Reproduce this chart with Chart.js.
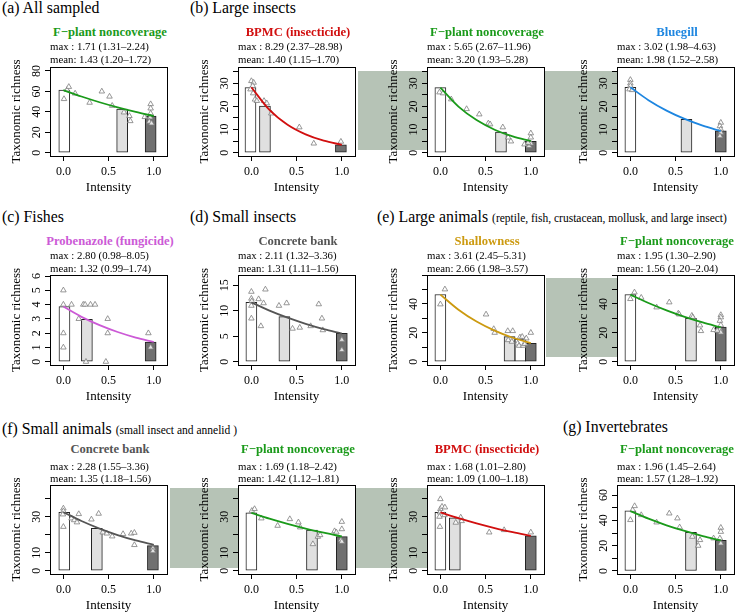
<!DOCTYPE html>
<html>
<head>
<meta charset="utf-8">
<script src="https://cdn.jsdelivr.net/npm/chart.js@4.4.1/dist/chart.umd.min.js"></script>
<style>
  body { margin: 0; background: #fff; }
  #fig { position: relative; width: 745px; height: 615px; overflow: hidden; background: #fff;
         font-family: 'Liberation Serif', 'DejaVu Serif', serif; color: #000; }
  #fig canvas { position: absolute; z-index: 2; }
  .band { position: absolute; background: #b6c3b6; z-index: 1; }
  .txt { position: absolute; white-space: nowrap; line-height: 14px; height: 14px; z-index: 3; }
  .head { font-size: 15.8px; line-height: 18px; height: 18px; }
  .head small { font-size: 11.5px; }
  .ttl { font-weight: bold; font-size: 12.6px; width: 220px; text-align: center; }
  .st { font-size: 10.8px; }
</style>
</head>
<body>
<div id="fig">
  <div class="band" style="left:358px;top:71px;width:259px;height:79px"></div>
  <div class="band" style="left:546px;top:278px;width:71px;height:79px"></div>
  <div class="band" style="left:170px;top:488px;width:257px;height:80px"></div>

  <canvas id="pa"></canvas><canvas id="pb1"></canvas><canvas id="pb2"></canvas><canvas id="pb3"></canvas>
  <canvas id="pc"></canvas><canvas id="pd"></canvas><canvas id="pe1"></canvas><canvas id="pe2"></canvas>
  <canvas id="pf1"></canvas><canvas id="pf2"></canvas><canvas id="pf3"></canvas><canvas id="pg"></canvas>

  <!-- titulos dos grupos -->
  <div class="txt head" style="left:2px;top:-1px">(a) All sampled</div>
  <div class="txt head" style="left:190px;top:-1px">(b) Large insects</div>
  <div class="txt head" style="left:2px;top:208px">(c) Fishes</div>
  <div class="txt head" style="left:190px;top:208px">(d) Small insects</div>
  <div class="txt head" style="left:377px;top:208px">(e) Large animals <small>(reptile, fish, crustacean, mollusk, and large insect)</small></div>
  <div class="txt head" style="left:2px;top:420px">(f) Small animals <small>(small insect and annelid )</small></div>
  <div class="txt head" style="left:563px;top:418px">(g) Invertebrates</div>

  <!-- linha 1 -->
  <div class="txt ttl" style="left:0px;top:25px;color:#1a9a1a">F−plant noncoverage</div>
  <div class="txt st" style="left:50px;top:39px">max : 1.71 (1.31–2.24)</div>
  <div class="txt st" style="left:50px;top:52px">mean: 1.43 (1.20–1.72)</div>

  <div class="txt ttl" style="left:188px;top:25px;color:#d10f0f">BPMC (insecticide)</div>
  <div class="txt st" style="left:238px;top:39px">max : 8.29 (2.37–28.98)</div>
  <div class="txt st" style="left:238px;top:52px">mean: 1.40 (1.15–1.70)</div>

  <div class="txt ttl" style="left:377px;top:25px;color:#1a9a1a">F−plant noncoverage</div>
  <div class="txt st" style="left:427px;top:39px">max : 5.65 (2.67–11.96)</div>
  <div class="txt st" style="left:427px;top:52px">mean: 3.20 (1.93–5.28)</div>

  <div class="txt ttl" style="left:567px;top:25px;color:#1e86e0">Bluegill</div>
  <div class="txt st" style="left:617px;top:39px">max : 3.02 (1.98–4.63)</div>
  <div class="txt st" style="left:617px;top:52px">mean: 1.98 (1.52–2.58)</div>

  <!-- linha 2 -->
  <div class="txt ttl" style="left:0px;top:234px;color:#cc5ad6">Probenazole (fungicide)</div>
  <div class="txt st" style="left:50px;top:248px">max : 2.80 (0.98–8.05)</div>
  <div class="txt st" style="left:50px;top:261px">mean: 1.32 (0.99–1.74)</div>

  <div class="txt ttl" style="left:188px;top:234px;color:#555555">Concrete bank</div>
  <div class="txt st" style="left:238px;top:248px">max : 2.11 (1.32–3.36)</div>
  <div class="txt st" style="left:238px;top:261px">mean: 1.31 (1.11–1.56)</div>

  <div class="txt ttl" style="left:377px;top:234px;color:#cc9a10">Shallowness</div>
  <div class="txt st" style="left:427px;top:248px">max : 3.61 (2.45–5.31)</div>
  <div class="txt st" style="left:427px;top:261px">mean: 2.66 (1.98–3.57)</div>

  <div class="txt ttl" style="left:567px;top:234px;color:#1a9a1a">F−plant noncoverage</div>
  <div class="txt st" style="left:617px;top:248px">max : 1.95 (1.30–2.90)</div>
  <div class="txt st" style="left:617px;top:261px">mean: 1.56 (1.20–2.04)</div>

  <!-- linha 3 -->
  <div class="txt ttl" style="left:0px;top:442px;color:#555555">Concrete bank</div>
  <div class="txt st" style="left:50px;top:459px">max : 2.28 (1.55–3.36)</div>
  <div class="txt st" style="left:50px;top:471px">mean: 1.35 (1.18–1.56)</div>

  <div class="txt ttl" style="left:188px;top:442px;color:#1a9a1a">F−plant noncoverage</div>
  <div class="txt st" style="left:238px;top:459px">max : 1.69 (1.18–2.42)</div>
  <div class="txt st" style="left:238px;top:471px">mean: 1.42 (1.12–1.81)</div>

  <div class="txt ttl" style="left:377px;top:442px;color:#d10f0f">BPMC (insecticide)</div>
  <div class="txt st" style="left:427px;top:459px">max : 1.68 (1.01–2.80)</div>
  <div class="txt st" style="left:427px;top:471px">mean: 1.09 (1.00–1.18)</div>

  <div class="txt ttl" style="left:567px;top:442px;color:#1a9a1a">F−plant noncoverage</div>
  <div class="txt st" style="left:617px;top:459px">max : 1.96 (1.45–2.64)</div>
  <div class="txt st" style="left:617px;top:471px">mean: 1.57 (1.28–1.92)</div>
</div>

<script>
// valores (intensidade x riqueza taxonomica)
const curveX = [0, 0.2, 0.4, 0.6, 0.8, 1.0];

// (a) All sampled
const aPtsX = [0.007, 0.04, 0.06, 0.13, 0.29, 0.425, 0.51, 0.54, 0.67, 0.73, 0.74, 0.90, 0.965, 0.965, 0.965, 0.96, 0.95, 0.975];
const aPtsY = [52.6, 61.5, 64.5, 58, 49, 60, 55, 46, 39.5, 36, 31, 35, 47.6, 43.4, 38.5, 34.6, 30.4, 28.7];
const aBarX = [0.01, 0.65, 0.965];
const aBarY = [61.2, 42.8, 35.8];
const aCurveY = [61.2, 55.0, 49.4, 44.4, 39.9, 35.8];
const aYLabels = [0, 20, 40, 60, 80];

// (b) Large insects - BPMC
const b1PtsX = [0, 0.025, 0.015, -0.01, 0.02, 0.04, 0.06, 0.14, 0.17, 0.22, 0.53, 0.69, 0.99];
const b1PtsY = [31, 30.3, 28.9, 27.4, 25.7, 23, 22.4, 22.4, 21.4, 17, 11, 4, 4.8];
const b1BarX = [-0.01, 0.15, 0.99];
const b1BarY = [28.2, 20.2, 3.4];
const b1CurveY = [28.3, 18.5, 12.1, 7.95, 5.21, 3.41];

// (b) Large insects - F-plant
const b2PtsX = [-0.01, 0.03, 0.12, 0.29, 0.43, 0.53, 0.55, 0.69, 0.75, 0.78, 0.93, 1.0, 1.0, 0.98, 1.0, 0.97];
const b2PtsY = [26.1, 25.7, 23.1, 18.9, 16.6, 12.7, 12.3, 11, 6.6, 4.9, 3.6, 8.4, 6.6, 2.9, 4.0, 4.3];
const b2BarX = [0, 0.67, 1.0];
const b2BarY = [28.1, 8.9, 4.9];
const b2CurveY = [28.1, 19.9, 14.1, 9.94, 7.03, 4.97];

// (b) Large insects - Bluegill
const b3PtsX = [0, 0, 0, -0.01, 0.02, 1, 0.99, 1.0, 1.0, 0.99];
const b3PtsY = [31.5, 30, 28.9, 27.4, 27.1, 13, 11.5, 10.1, 8.7, 7.2];
const b3BarX = [0, 0.62, 1.0];
const b3BarY = [28.3, 14.4, 9.4];
const b3CurveY = [28.3, 22.7, 18.2, 14.6, 11.7, 9.37];
const bYLabels = [0, 10, 20, 30];

// (c) Fishes
const cPtsX = [0, 0, 0, 0, 0.09, 0.17, 0.22, 0.24, 0.30, 0.35, 0.25, 0.49, 0.49, 0.47, 0.94, 0.965];
const cPtsY = [5, 4, 2, 1, 4, 3, 4, 4, 4, 4, 0, 3, 2, 0, 2, 1];
const cBarX = [0.012, 0.26, 0.965];
const cBarY = [3.86, 2.97, 1.37];
const cCurveY = [3.86, 3.14, 2.56, 2.08, 1.69, 1.38];
const cYLabels = [0, 1, 2, 3, 4, 5, 6];

// (d) Small insects
const dPtsX = [0, 0, 0.005, 0, 0, 0.08, 0.105, 0.135, 0.155, 0.305, 0.39, 0.455, 0.535, 0.655, 0.745, 0.78, 0.79, 1, 1];
const dPtsY = [13.75, 12.4, 11.9, 11, 8.5, 12.3, 7, 11.5, 14.2, 11, 11.5, 6.5, 6.7, 7, 11.3, 8.5, 6.2, 4.3, 2.3];
const dBarX = [0, 0.365, 1.0];
const dBarY = [11.66, 8.84, 5.55];
const dCurveY = [11.66, 10.04, 8.65, 7.45, 6.41, 5.53];
const dYLabels = [0, 5, 10, 15];

// (e) Large animals - Shallowness
const e1PtsX = [0.05, 0, 0.505, 0.59, 0.6, 0.745, 0.8, 0.75, 0.79, 0.88, 0.905, 0.855, 0.87, 0.915, 0.95, 1.0, 0.935];
const e1PtsY = [50.2, 39.8, 32.8, 22.7, 20.1, 21.3, 21.3, 15, 13.9, 16.9, 17.3, 12.7, 11.1, 11.1, 16.2, 20.1, 12.3];
const e1BarX = [0, 0.765, 0.885, 1.0];
const e1BarY = [46.6, 17.4, 15.6, 12.8];
const e1CurveY = [46.5, 36.0, 27.8, 21.5, 16.6, 12.9];

// (e) Large animals - F-plant
const e2PtsX = [0, 0.045, 0.12, 0.29, 0.43, 0.53, 0.54, 0.68, 0.69, 0.77, 0.78, 0.92, 1, 1, 0.99, 1, 0.99, 1, 0.96];
const e2PtsY = [43.5, 48.1, 44.4, 37.7, 41.2, 33.5, 32.8, 31.9, 30.8, 25.2, 21.3, 22, 32.4, 30.8, 28.4, 25.4, 22.4, 20.3, 21.5];
const e2BarX = [0, 0.67, 1.0];
const e2BarY = [46.6, 30, 24];
const e2CurveY = [46.5, 40.7, 35.6, 31.1, 27.2, 23.8];
const eYLabels = [0, 20, 40];

// (f) Small animals - Concrete bank
const f1PtsX = [0, 0, -0.005, 0, 0.09, 0.12, 0.15, 0.17, 0.31, 0.39, 0.435, 0.48, 0.54, 0.66, 0.75, 0.785, 0.785, 0.99, 0.99];
const f1PtsY = [34.6, 33.1, 31.3, 24.4, 29.1, 28.1, 26.9, 31.5, 28.5, 31.7, 21.3, 20.7, 19.1, 20.4, 20.7, 21.1, 14.3, 12.4, 10.9];
const f1BarX = [0.01, 0.37, 0.99];
const f1BarY = [32.4, 23.5, 13.9];
const f1CurveY = [32.5, 27.6, 23.4, 19.8, 16.8, 14.3];

// (f) Small animals - F-plant
const f2PtsX = [0.005, 0.035, 0.11, 0.29, 0.425, 0.52, 0.54, 0.68, 0.735, 0.76, 0.92, 0.94, 1, 1, 0.99, 1];
const f2PtsY = [33.3, 34.3, 29.1, 25, 28.7, 26.9, 24.1, 14.8, 18.9, 19.8, 22, 21.3, 27.2, 23.1, 17, 16.1];
const f2BarX = [0, 0.67, 1.0];
const f2BarY = [32.2, 22.6, 18.9];
const f2CurveY = [32.1, 28.9, 26.0, 23.4, 21.1, 19.0];

// (f) Small animals - BPMC
const f3PtsX = [0, 0, 0.018, 0.05, -0.005, -0.01, -0.005, 0.045, 0.17, 0.225, 0.235, 0.54, 0.705, 1.0];
const f3PtsY = [39.8, 34.3, 35.6, 35.2, 32.4, 30, 24.4, 30.9, 26.7, 29.6, 27.6, 21.3, 22.6, 21.3];
const f3BarX = [0, 0.16, 1.0];
const f3BarY = [32.4, 29.4, 19.3];
const f3CurveY = [32.4, 29.2, 26.3, 23.7, 21.4, 19.3];
const fYLabels = [0, 10, 30];

// (g) Invertebrates
const gPtsX = [0, 0.025, 0.047, 0.12, 0.29, 0.43, 0.52, 0.545, 0.685, 0.77, 0.75, 0.92, 1, 1, 0.99, 1];
const gPtsY = [40.3, 48.2, 51.3, 44.2, 38.4, 45.5, 41.6, 34.5, 27.1, 24.5, 20, 25.8, 34.2, 31, 25.8, 21.8];
const gBarX = [0, 0.67, 1.0];
const gBarY = [47.5, 30.5, 24.3];
const gCurveY = [47.3, 41.3, 36.1, 31.6, 27.6, 24.1];
const gYLabels = [0, 20, 40, 60];

const SERIF = "'Liberation Serif', 'DejaVu Serif', serif";
const VERDE = '#1a9a1a', VERMELHO = '#d10f0f', AZUL = '#1e86e0', ORQUIDEA = '#cc5ad6', OURO = '#cc9a10', CINZA = '#555555';
const BR = '#ffffff', CL = '#e0e0e0', ES = '#707070';
const TOPO = 12; // espaco acima da caixa pro titulo do eixo y

// moldura + fundo branco + rotulos do eixo y girados (como no R)
const moldura = {
  id: 'moldura',
  beforeDraw(chart) {
    const a = chart.chartArea, c = chart.ctx;
    c.save();
    c.fillStyle = '#fff';
    c.fillRect(a.left, a.top, a.right - a.left, a.bottom - a.top);
    c.restore();
  },
  afterDatasetsDraw(chart) {
    const a = chart.chartArea, c = chart.ctx;
    c.save();
    c.strokeStyle = '#000';
    c.lineWidth = 1;
    c.strokeRect(Math.round(a.left) + 0.5, Math.round(a.top) + 0.5, Math.round(a.right - a.left), Math.round(a.bottom - a.top));
    c.restore();
  },
  afterDraw(chart, args, opts) {
    const s = chart.scales.y, c = chart.ctx, x = chart.chartArea.left - 13;
    c.save();
    c.font = '12px ' + SERIF;
    c.fillStyle = '#000';
    c.textAlign = 'center';
    c.textBaseline = 'middle';
    opts.labels.forEach(v => {
      c.save();
      c.translate(x, s.getPixelForValue(v));
      c.rotate(-Math.PI / 2);
      c.fillText(String(v), 0, 0);
      c.restore();
    });
    c.restore();
  }
};

const paineis = [
  { id: 'pa',  left: 50,  top: 67,  h: 89, ptsX: aPtsX,  ptsY: aPtsY,  barX: aBarX,  barY: aBarY,  curveY: aCurveY,  cor: VERDE,    fills: [BR, CL, ES],     yMin: -3.23, yMax: 83.9, yStep: 20, labels: aYLabels },
  { id: 'pb1', left: 238, top: 67,  h: 89, ptsX: b1PtsX, ptsY: b1PtsY, barX: b1BarX, barY: b1BarY, curveY: b1CurveY, cor: VERMELHO, fills: [BR, CL, ES],     yMin: -1.43, yMax: 37.05, yStep: 5, labels: bYLabels },
  { id: 'pb2', left: 427, top: 67,  h: 89, ptsX: b2PtsX, ptsY: b2PtsY, barX: b2BarX, barY: b2BarY, curveY: b2CurveY, cor: VERDE,    fills: [BR, CL, ES],     yMin: -1.43, yMax: 37.05, yStep: 5, labels: bYLabels },
  { id: 'pb3', left: 617, top: 67,  h: 89, ptsX: b3PtsX, ptsY: b3PtsY, barX: b3BarX, barY: b3BarY, curveY: b3CurveY, cor: AZUL,     fills: [BR, CL, ES],     yMin: -1.43, yMax: 37.05, yStep: 5, labels: bYLabels },
  { id: 'pc',  left: 50,  top: 275, h: 90, ptsX: cPtsX,  ptsY: cPtsY,  barX: cBarX,  barY: cBarY,  curveY: cCurveY,  cor: ORQUIDEA, fills: [BR, CL, ES],     yMin: -0.23, yMax: 6.07, yStep: 1, labels: cYLabels },
  { id: 'pd',  left: 238, top: 275, h: 90, ptsX: dPtsX,  ptsY: dPtsY,  barX: dBarX,  barY: dBarY,  curveY: dCurveY,  cor: CINZA,    fills: [BR, CL, ES],     yMin: -0.65, yMax: 17.03, yStep: 5, labels: dYLabels },
  { id: 'pe1', left: 427, top: 275, h: 90, ptsX: e1PtsX, ptsY: e1PtsY, barX: e1BarX, barY: e1BarY, curveY: e1CurveY, cor: OURO,     fills: [BR, CL, BR, ES], yMin: -2.29, yMax: 60.1, yStep: 10, labels: eYLabels },
  { id: 'pe2', left: 617, top: 275, h: 90, ptsX: e2PtsX, ptsY: e2PtsY, barX: e2BarX, barY: e2BarY, curveY: e2CurveY, cor: VERDE,    fills: [BR, CL, ES],     yMin: -2.29, yMax: 60.1, yStep: 10, labels: eYLabels },
  { id: 'pf1', left: 50,  top: 485, h: 89, ptsX: f1PtsX, ptsY: f1PtsY, barX: f1BarX, barY: f1BarY, curveY: f1CurveY, cor: CINZA,    fills: [BR, CL, ES],     yMin: -1.83, yMax: 47.6, yStep: 10, labels: fYLabels },
  { id: 'pf2', left: 238, top: 485, h: 89, ptsX: f2PtsX, ptsY: f2PtsY, barX: f2BarX, barY: f2BarY, curveY: f2CurveY, cor: VERDE,    fills: [BR, CL, ES],     yMin: -1.83, yMax: 47.6, yStep: 10, labels: fYLabels },
  { id: 'pf3', left: 427, top: 485, h: 89, ptsX: f3PtsX, ptsY: f3PtsY, barX: f3BarX, barY: f3BarY, curveY: f3CurveY, cor: VERMELHO, fills: [BR, CL, ES],     yMin: -1.83, yMax: 47.6, yStep: 10, labels: fYLabels },
  { id: 'pg',  left: 617, top: 485, h: 89, ptsX: gPtsX,  ptsY: gPtsY,  barX: gBarX,  barY: gBarY,  curveY: gCurveY,  cor: VERDE,    fills: [BR, CL, ES],     yMin: -2.37, yMax: 67.9, yStep: 10, labels: gYLabels }
];

const pares = (xs, ys) => xs.map((x, i) => ({ x: x, y: ys[i] }));

function desenhaPainel(p) {
  const cv = document.getElementById(p.id);
  cv.width = 172;
  cv.height = TOPO + p.h + 42;
  cv.style.left = (p.left - 50) + 'px';
  cv.style.top = (p.top - TOPO) + 'px';

  const gradeEixo = { display: true, drawOnChartArea: false, drawTicks: true, tickLength: 5, tickColor: '#000', color: '#000', offset: false };

  new Chart(cv, {
    type: 'bar',
    data: {
      datasets: [
        {
          type: 'line',
          data: pares(curveX, p.curveY),
          borderColor: p.cor,
          borderWidth: 1.8,
          pointRadius: 0,
          cubicInterpolationMode: 'monotone',
          fill: false,
          order: 1
        },
        {
          type: 'scatter',
          data: pares(p.ptsX, p.ptsY),
          pointStyle: 'triangle',
          pointRadius: 3.2,
          borderColor: '#7d7d7d',
          borderWidth: 0.8,
          backgroundColor: 'rgba(255,255,255,0.8)',
          order: 2
        },
        {
          type: 'bar',
          data: pares(p.barX, p.barY),
          backgroundColor: p.fills,
          borderColor: '#222',
          borderWidth: 1,
          borderSkipped: false,
          barThickness: 11,
          grouped: false,
          order: 3
        }
      ]
    },
    options: {
      responsive: false,
      animation: false,
      layout: { padding: { top: TOPO, right: 2, left: 0, bottom: 0 } },
      plugins: {
        legend: { display: false },
        tooltip: { enabled: false },
        moldura: { labels: p.labels }
      },
      scales: {
        x: {
          type: 'linear',
          min: -0.148,
          max: 1.148,
          offset: false,
          grid: gradeEixo,
          border: { display: false },
          ticks: {
            stepSize: 0.5,
            includeBounds: false,
            autoSkip: false,
            maxRotation: 0,
            padding: 4,
            color: '#000',
            font: { family: SERIF, size: 12 },
            callback: v => v.toFixed(1)
          },
          title: { display: true, text: 'Intensity', color: '#000', font: { family: SERIF, size: 13 }, padding: { top: 0, bottom: 2.5 } },
          afterFit: s => { s.height = 42; }
        },
        y: {
          type: 'linear',
          min: p.yMin,
          max: p.yMax,
          grid: gradeEixo,
          border: { display: false },
          ticks: { display: false, stepSize: p.yStep, includeBounds: false },
          title: { display: true, text: 'Taxonomic richness', color: '#000', font: { family: SERIF, size: 13 }, padding: { top: 9, bottom: 0 } },
          afterFit: s => { s.width = 50; }
        }
      }
    },
    plugins: [moldura]
  });
}

paineis.forEach(desenhaPainel);
</script>
</body>
</html>
